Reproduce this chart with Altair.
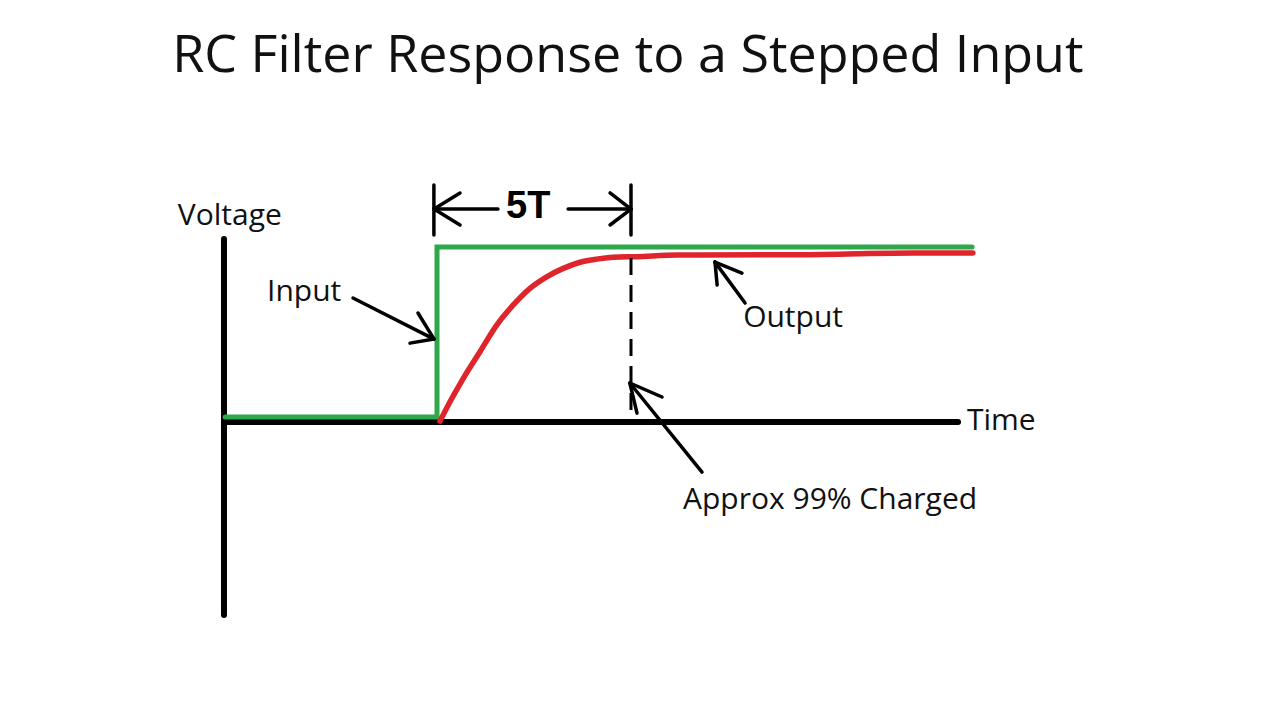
import altair as alt
import pandas as pd

# Time in units of the time constant T (step at t=0), voltage normalised (input high = 1)
T_DOMAIN = [-11.057, 21.521]
V_DOMAIN = [-1.657, 2.366]

# Input step (green)
input_t = [-5.46, 0.0, 0.0, 13.79]
input_v = [0.029, 0.029, 1.0, 1.0]

# Output (red)
output_t = [0.077, 0.335, 0.678, 1.108, 1.539, 1.966, 2.397, 2.827, 3.255, 3.686, 4.116, 4.544,
            5.147, 6.19, 9.18, 12.27, 13.81]
output_v = [0.005, 0.116, 0.250, 0.402, 0.554, 0.669, 0.764, 0.830, 0.878, 0.913, 0.931, 0.941,
            0.945, 0.954, 0.956, 0.966, 0.966]

# Axes (black, thick): vertical axis top->bottom, time axis origin->end
axis_t = [-5.49, -5.49]
axis_v = [1.046, 0.0]
axis_t2 = [-5.49, 13.43]
axis_v2 = [-1.103, 0.0]

# Annotation strokes (black, thin)
ann_t1 = [-0.08, 5.0, -0.077, 3.38, -0.077, -0.077, 5.0, 5.0,
          -2.165, -0.077, -0.077,
          7.94, 7.165, 7.165,
          6.83, 4.97, 4.97]
ann_v1 = [1.354, 1.354, 1.217, 1.217, 1.217, 1.217, 1.217, 1.217,
          0.709, 0.474, 0.474,
          0.68, 0.914, 0.914,
          -0.286, 0.223, 0.223]
ann_t2 = [-0.08, 5.0, 1.57, 5.0, 0.593, 0.593, 4.46, 4.46,
          -0.077, -0.49, -0.696,
          7.165, 7.22, 7.86,
          4.97, 5.80, 5.155]
ann_v2 = [1.069, 1.069, 1.217, 1.217, 1.309, 1.126, 1.309, 1.126,
          0.474, 0.623, 0.451,
          0.914, 0.783, 0.851,
          0.223, 0.143, 0.051]

# 5T dashed marker
dash_t = [5.0]
dash_v1 = [0.937]
dash_v2 = [0.006]

# Labels
label_text = ["Voltage", "Input", "Output", "Time", "Approx 99% Charged"]
label_t = [-6.68, -4.38, 7.89, 13.66, 6.34]
label_v = [1.126, 0.691, 0.543, -0.046, -0.497]

title_text = ["RC Filter Response to a Stepped Input"]
title_t = [4.92]
title_v = [2.0]

bold_text = ["5T"]
bold_t = [2.35]
bold_v = [1.166]

xs = alt.Scale(domain=T_DOMAIN, nice=False, zero=False)
ys = alt.Scale(domain=V_DOMAIN, nice=False, zero=False)


def X(f="t"):
    return alt.X(f"{f}:Q", scale=xs, axis=None)


def Y(f="v"):
    return alt.Y(f"{f}:Q", scale=ys, axis=None)


axes_df = pd.DataFrame({"t": axis_t, "v": axis_v, "t2": axis_t2, "v2": axis_v2})
axes = alt.Chart(axes_df).mark_rule(color="black", strokeWidth=6, strokeCap="round").encode(
    x=X("t"), y=Y("v"), x2="t2:Q", y2="v2:Q")

input_df = pd.DataFrame({"t": input_t, "v": input_v, "i": range(len(input_t))})
green = alt.Chart(input_df).mark_line(color="#2ea84a", strokeWidth=5, strokeCap="round", strokeJoin="miter").encode(
    x=X(), y=Y(), order="i:Q")

output_df = pd.DataFrame({"t": output_t, "v": output_v, "i": range(len(output_t))})
red = alt.Chart(output_df).mark_line(color="#e0242c", strokeWidth=5.5, strokeCap="round",
                                     interpolate="monotone").encode(
    x=X(), y=Y(), order="i:Q")

ann_df = pd.DataFrame({"t": ann_t1, "v": ann_v1, "t2": ann_t2, "v2": ann_v2})
ann = alt.Chart(ann_df).mark_rule(color="black", strokeWidth=3.5, strokeCap="round").encode(
    x=X("t"), y=Y("v"), x2="t2:Q", y2="v2:Q")

dash_df = pd.DataFrame({"t": dash_t, "v": dash_v1, "v2": dash_v2})
dash = alt.Chart(dash_df).mark_rule(color="black", strokeWidth=3, strokeDash=[17, 10]).encode(
    x=X("t"), y=Y("v"), y2="v2:Q")

lab_df = pd.DataFrame({"text": label_text, "t": label_t, "v": label_v})
labels = alt.Chart(lab_df).mark_text(align="left", baseline="alphabetic", font="Open Sans",
                                     fontSize=30, color="#111111").encode(
    x=X(), y=Y(), text="text:N")

title_df = pd.DataFrame({"text": title_text, "t": title_t, "v": title_v})
title = alt.Chart(title_df).mark_text(align="center", baseline="alphabetic", font="Open Sans",
                                      fontSize=52, color="#111111").encode(
    x=X(), y=Y(), text="text:N")

bold_df = pd.DataFrame({"text": bold_text, "t": bold_t, "v": bold_v})
bold = alt.Chart(bold_df).mark_text(align="center", baseline="alphabetic", font="Liberation Sans",
                                    fontWeight="bold", fontSize=38, color="black").encode(
    x=X(), y=Y(), text="text:N")

chart = alt.layer(axes, green, red, dash, ann, labels, title, bold).properties(
    width=1264, height=704, autosize=alt.AutoSizeParams(type="none"), padding=0,
    background="white"
).configure_view(stroke=None)

chart.save("out.html", embed_options={"renderer": "svg", "actions": False})
